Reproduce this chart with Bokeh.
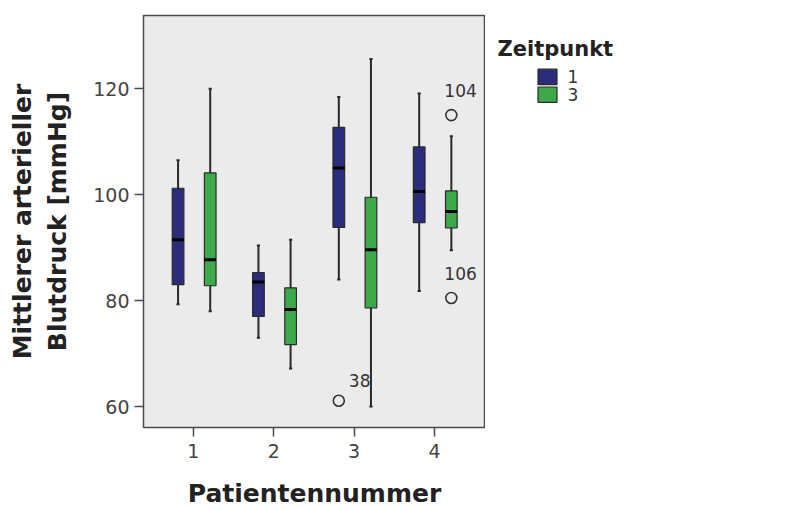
from bokeh.plotting import figure
from bokeh.layouts import row
from bokeh.models import Range1d, ColumnDataSource, FixedTicker
from bokeh.embed import file_html
from bokeh.resources import INLINE
from bokeh.core.properties import value

# Mittlerer arterieller Blutdruck je Patient, Boxplot-Kennwerte
patients = [1, 2, 3, 4]

# Zeitpunkt 1
t1_low = [79.3, 73.0, 84.0, 81.8]
t1_q1 = [83.0, 77.0, 93.8, 94.7]
t1_med = [91.5, 83.5, 105.0, 100.6]
t1_q3 = [101.2, 85.3, 112.7, 109.0]
t1_high = [106.5, 90.4, 118.4, 119.1]

# Zeitpunkt 3
t3_low = [78.0, 67.2, 60.0, 89.5]
t3_q1 = [82.8, 71.7, 78.6, 93.7]
t3_med = [87.7, 78.3, 89.6, 96.8]
t3_q3 = [104.1, 82.4, 99.5, 100.7]
t3_high = [120.0, 91.5, 125.6, 111.0]

# Ausreisser (Fallnummern)
outlier_patient = [3, 4, 4]
outlier_zeitpunkt = ["1", "3", "3"]
outlier_value = [61.1, 115.0, 80.5]
outlier_case = ["38", "104", "106"]

zeitpunkte = ["1", "3"]
y_ticks = [60, 80, 100, 120]

FONT = "DejaVu Sans"
BLUE = "#2b2d7a"
GREEN = "#3da94b"
EDGE = "#2a2a2a"
colors = {"1": BLUE, "3": GREEN}

p = figure(width=485, height=510, output_backend="svg", toolbar_location=None,
           x_range=Range1d(0.38, 4.635), y_range=Range1d(56.05, 133.8),
           min_border_left=143, min_border_right=0, min_border_top=15,
           min_border_bottom=82)
p.background_fill_color = "#ebebeb"
p.border_fill_color = "white"
p.outline_line_color = "#4a4a4a"
p.outline_line_width = 1.5
p.grid.visible = False

offsets = {"1": -0.19, "3": 0.21}
box_w = 0.145
cap_w = 0.04

groups = {
    "1": (t1_low, t1_q1, t1_med, t1_q3, t1_high),
    "3": (t3_low, t3_q1, t3_med, t3_q3, t3_high),
}
for key, (low, q1, med, q3, high) in groups.items():
    xs = [pt + offsets[key] for pt in patients]
    src = ColumnDataSource(dict(x=xs, low=low, q1=q1, med=med, q3=q3, high=high,
                                xl=[x - box_w / 2 for x in xs], xr=[x + box_w / 2 for x in xs],
                                cl=[x - cap_w / 2 for x in xs], cr=[x + cap_w / 2 for x in xs]))
    p.segment(x0="x", y0="low", x1="x", y1="high", source=src,
              line_color=EDGE, line_width=2)
    p.segment(x0="cl", y0="high", x1="cr", y1="high", source=src, line_color=EDGE, line_width=2)
    p.segment(x0="cl", y0="low", x1="cr", y1="low", source=src, line_color=EDGE, line_width=2)
    p.vbar(x="x", width=box_w, bottom="q1", top="q3", source=src,
           fill_color=colors[key], line_color=EDGE, line_width=1.2)
    p.segment(x0="xl", y0="med", x1="xr", y1="med", source=src,
              line_color="black", line_width=3)

# Ausreisser mit Fallnummern
ox = [pt + offsets[z] for pt, z in zip(outlier_patient, outlier_zeitpunkt)]
label_dx = [10 if z == "1" else -7 for z in outlier_zeitpunkt]
label_dy = [-14 if z == "1" else -18 for z in outlier_zeitpunkt]
osrc = ColumnDataSource(dict(x=ox, y=outlier_value, case=outlier_case, dx=label_dx, dy=label_dy))
p.scatter(x="x", y="y", source=osrc, marker="circle", size=11, fill_color=None,
          line_color="#333333", line_width=1.6)
p.text(x="x", y="y", text="case", source=osrc, x_offset="dx", y_offset="dy",
       text_align="left", text_baseline="bottom", text_font=value(FONT),
       text_font_size="17px", text_color="#333333")

# Achsen
p.xaxis.ticker = FixedTicker(ticks=patients)
p.yaxis.ticker = FixedTicker(ticks=y_ticks)
for ax in (p.xaxis[0], p.yaxis[0]):
    ax.axis_line_color = None
    ax.major_tick_in = 0
    ax.major_tick_out = 9
    ax.major_tick_line_color = "#4a4a4a"
    ax.major_tick_line_width = 1.5
    ax.minor_tick_line_color = None
    ax.major_label_text_font = FONT
    ax.major_label_text_font_size = "19px"
    ax.major_label_text_color = "#444444"
    ax.axis_label_text_font = FONT
    ax.axis_label_text_font_style = "bold"
    ax.axis_label_text_font_size = "25px"
    ax.axis_label_text_color = "#222222"
p.xaxis.axis_label = "Patientennummer"
p.yaxis.axis_label = "Mittlerer arterieller\nBlutdruck [mmHg]"
p.xaxis.major_label_standoff = 7
p.yaxis.major_label_standoff = 5
p.xaxis.axis_label_standoff = 18
p.yaxis.axis_label_standoff = 18

# Legende in eigener Flaeche rechts neben dem Diagramm (Pixelkoordinaten)
lg = figure(width=315, height=510, output_backend="svg", toolbar_location=None,
            x_range=Range1d(0, 315), y_range=Range1d(510, 0),
            min_border=0, outline_line_color=None)
lg.axis.visible = False
lg.grid.visible = False
lg.background_fill_color = "white"
lg.border_fill_color = "white"
lg.text(x=[12], y=[42], text=["Zeitpunkt"], text_font=value(FONT),
        text_font_style="bold", text_font_size="21px", text_color="#222222",
        text_baseline="middle", text_align="left")
item_y = [76 + 22 * i for i in range(len(zeitpunkte))]
lg.rect(x=[62] * len(zeitpunkte), y=item_y, width=19, height=19,
        fill_color=[colors[z] for z in zeitpunkte], line_color=EDGE, line_width=1.2)
lg.text(x=[82] * len(zeitpunkte), y=item_y, text=zeitpunkte, text_font=value(FONT),
        text_font_size="17px", text_color="#333333",
        text_baseline="middle", text_align="left")

layout = row(p, lg, spacing=0)
open("out.html", "w").write(file_html(layout, INLINE))
